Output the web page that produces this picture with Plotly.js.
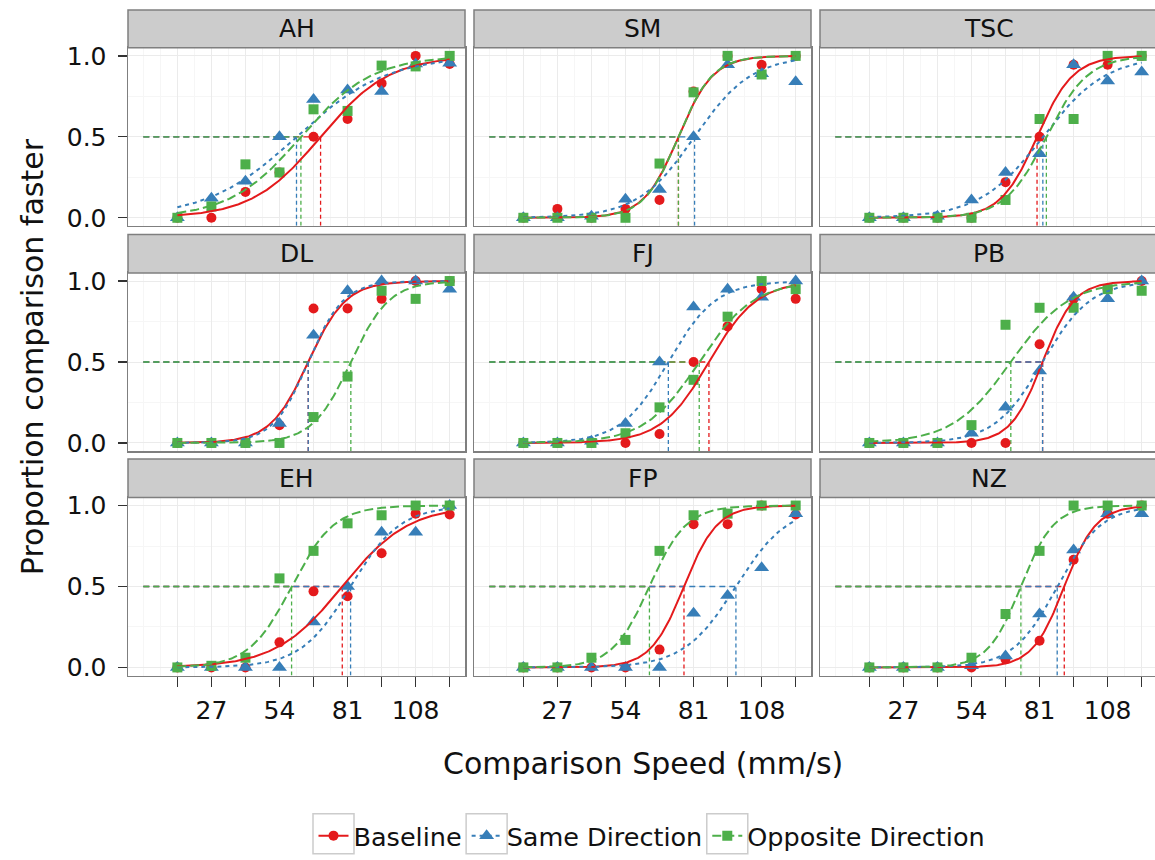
<!DOCTYPE html>
<html><head><meta charset="utf-8">
<script src="https://cdn.plot.ly/plotly-3.0.1.min.js"></script>
<style>html,body{margin:0;padding:0;overflow:hidden;background:#fff}#chart{width:1160px;height:860px}</style>
</head><body><div id="chart"></div>
<script>
// ---------- data ----------
const speeds = [13.5, 27, 40.5, 54, 67.5, 81, 94.5, 108, 121.5];
const subjects = ['AH', 'SM', 'TSC', 'DL', 'FJ', 'PB', 'EH', 'FP', 'NZ'];
const conditions = ['Baseline', 'Same Direction', 'Opposite Direction'];
const xTickVals = [13.5, 27, 40.5, 54, 67.5, 81, 94.5, 108, 121.5];
const xTickText = ['', '27', '', '54', '', '81', '', '108', ''];
const yTickVals = [0, 0.5, 1];
const yTickText = ['0.0', '0.5', '1.0'];

// proportion "comparison faster", one row per subject (order of `subjects`)
const baselineProp = [
  [0, 0, 0.16, 0.28, 0.5, 0.61, 0.83, 1.0, 0.95],
  [0, 0.055, 0, 0.055, 0.11, 0.78, 1.0, 0.945, 1.0],
  [0, 0, 0, 0, 0.22, 0.5, 0.945, 0.945, 1.0],
  [0, 0, 0, 0.11, 0.83, 0.83, 0.89, 1.0, 1.0],
  [0, 0, 0, 0, 0.055, 0.5, 0.72, 0.95, 0.89],
  [0, 0, 0, 0, 0, 0.61, 0.89, 0.95, 1.0],
  [0, 0, 0, 0.155, 0.47, 0.44, 0.705, 0.95, 0.945],
  [0, 0, 0, 0, 0.11, 0.885, 0.885, 1.0, 0.945],
  [0, 0, 0, 0, 0.05, 0.165, 0.665, 0.95, 1.0]
];
const sameProp = [
  [0, 0.12, 0.225, 0.5, 0.73, 0.79, 0.78, 0.95, 0.955],
  [0, 0, 0.01, 0.115, 0.175, 0.5, 0.945, 0.89, 0.84],
  [0, 0, 0.01, 0.11, 0.28, 0.395, 0.945, 0.845, 0.9],
  [0, 0, 0, 0.12, 0.665, 0.94, 1.0, 1.0, 0.95],
  [0, 0, 0.01, 0.12, 0.5, 0.84, 0.95, 0.9, 1.0],
  [0, 0, 0, 0.06, 0.22, 0.445, 0.9, 0.89, 1.0],
  [0, 0, 0, 0, 0.28, 0.5, 0.835, 0.835, 1.0],
  [0, 0, 0, 0, 0, 0.335, 0.445, 0.615, 0.95],
  [0, 0, 0, 0.01, 0.07, 0.33, 0.725, 0.95, 0.95]
];
const oppositeProp = [
  [0, 0.07, 0.33, 0.28, 0.67, 0.66, 0.94, 0.935, 1.0],
  [0, 0, 0, 0, 0.335, 0.775, 1.0, 0.885, 1.0],
  [0, 0, 0, 0, 0.11, 0.61, 0.61, 1.0, 1.0],
  [0, 0, 0, 0, 0.16, 0.41, 0.94, 0.89, 1.0],
  [0, 0, 0, 0.06, 0.22, 0.39, 0.78, 1.0, 0.95],
  [0, 0, 0, 0.11, 0.73, 0.835, 0.835, 0.95, 0.94],
  [0, 0.01, 0.06, 0.55, 0.72, 0.89, 0.94, 1.0, 1.0],
  [0, 0, 0.06, 0.17, 0.72, 0.94, 0.95, 1.0, 1.0],
  [0, 0, 0, 0.06, 0.33, 0.72, 1.0, 1.0, 1.0]
];

// fitted psychometric functions: point of subjective equality and spread
const baselinePSE = [70.3, 75.0, 80.0, 65.4, 87.1, 82.2, 78.9, 77.2, 90.8];
const samePSE     = [60.75, 81.4, 82.3, 65.4, 71.0, 82.2, 82.2, 97.8, 88.0];
const oppositePSE = [62.5, 75.0, 83.7, 82.3, 83.25, 69.6, 58.8, 63.5, 73.6];
const baselineSpread = [13.6, 6.9, 7.2, 7.5, 9.5, 6.3, 13.2, 6.6, 6.3];
const sameSpread     = [17.7, 11.3, 12.5, 7.0, 9.4, 9.5, 9.8, 10.3, 8.7];
const oppositeSpread = [14.1, 6.8, 8.2, 7.6, 10.8, 11.5, 8.4, 7.3, 6.5];

// ---------- styling ----------
const W = 1160, H = 860;
const FONT = 'DejaVu Sans';
const colors = ['#E41A1C', '#377EB8', '#4DAF4A'];
const symbols = ['circle', 'triangle-up', 'square'];
const msizes = [10, 13, 10];
const curveDash = ['solid', '4px,4px', '9px,4px'];
const colLeft = [128, 474, 820], colRight = [465, 811, 1157];
const rowTop = [47.9, 273.6, 498.6], rowBottom = [226.4, 452.1, 677.1];
const stripTop = [10, 235, 460];

const props = [baselineProp, sameProp, oppositeProp];
const pses = [baselinePSE, samePSE, oppositePSE];
const spreads = [baselineSpread, sameSpread, oppositeSpread];

const curveX = [];
for (let v = speeds[0]; v <= speeds[speeds.length - 1] + 1e-9; v += 0.5) curveX.push(v);
const logistic = (x, m, s) => 1 / (1 + Math.exp(-(x - m) / s));

const traces = [];
const layout = {
  width: W, height: H,
  margin: {l: 0, r: 0, t: 0, b: 0},
  paper_bgcolor: '#fff', plot_bgcolor: '#fff',
  font: {family: FONT, color: '#111'},
  showlegend: true,
  legend: {orientation: 'h', x: 652 / W, xanchor: 'center', y: 1 - 838 / H, yanchor: 'middle',
           font: {family: FONT, size: 25.5, color: '#111'}, bgcolor: 'rgba(0,0,0,0)', traceorder: 'normal'},
  shapes: [], annotations: []
};

subjects.forEach((subj, i) => {
  const r = Math.floor(i / 3), c = i % 3;
  const suf = i === 0 ? '' : String(i + 1);
  const xa = 'x' + suf, ya = 'y' + suf;
  layout['xaxis' + suf] = {
    domain: [colLeft[c] / W, colRight[c] / W], anchor: ya,
    range: [-6.075, 127.575], tickmode: 'array', tickvals: xTickVals,
    ticktext: xTickText, showticklabels: r === 2,
    ticks: r === 2 ? 'outside' : '', ticklen: 10, tickwidth: 1.3, tickcolor: '#333',
    ticklabelstandoff: 2,
    tickfont: {family: FONT, size: 25, color: '#111'},
    showgrid: true, gridcolor: '#EBEBEB', gridwidth: 1,
    minor: {tickmode: 'linear', tick0: 0, dtick: 6.75, showgrid: true, gridcolor: '#F6F6F6', gridwidth: 1, ticks: ''},
    showline: true, mirror: true, linecolor: '#7F7F7F', linewidth: 1.5, zeroline: false, fixedrange: true
  };
  layout['yaxis' + suf] = {
    domain: [1 - rowBottom[r] / H, 1 - rowTop[r] / H], anchor: xa,
    range: [-0.05, 1.05], tickmode: 'array', tickvals: yTickVals, ticktext: yTickText,
    showticklabels: c === 0, ticks: c === 0 ? 'outside' : '', ticklen: 9, tickwidth: 1.3, tickcolor: '#333',
    ticklabelstandoff: 6,
    tickfont: {family: FONT, size: 25, color: '#111'},
    showgrid: true, gridcolor: '#EBEBEB', gridwidth: 1,
    minor: {tickmode: 'linear', tick0: 0, dtick: 0.25, showgrid: true, gridcolor: '#F6F6F6', gridwidth: 1, ticks: ''},
    showline: true, mirror: true, linecolor: '#7F7F7F', linewidth: 1.5, zeroline: false, fixedrange: true
  };
  // strip
  layout.shapes.push({type: 'rect', xref: 'paper', yref: 'paper',
    x0: colLeft[c] / W, x1: colRight[c] / W, y0: 1 - rowTop[r] / H, y1: 1 - stripTop[r] / H,
    fillcolor: '#CCCCCC', line: {color: '#7F7F7F', width: 1.5}, layer: 'above'});
  layout.annotations.push({xref: 'paper', yref: 'paper', showarrow: false,
    x: (colLeft[c] + colRight[c]) / 2 / W, y: 1 - (rowTop[r] + stripTop[r]) / 2 / H,
    xanchor: 'center', yanchor: 'middle', text: subj, font: {family: FONT, size: 25, color: '#111'}});

  // reference lines at PSE
  for (let k = 0; k < 3; k++) {
    const m = pses[k][i];
    traces.push({type: 'scatter', mode: 'lines', xaxis: xa, yaxis: ya, showlegend: false, hoverinfo: 'skip',
      x: [0, m], y: [0.5, 0.5], line: {color: colors[k], width: 1.3, dash: '6px,4px'}});
    traces.push({type: 'scatter', mode: 'lines', xaxis: xa, yaxis: ya, showlegend: false, hoverinfo: 'skip',
      x: [m, m], y: [-0.05, 0.5], line: {color: colors[k], width: 1.3, dash: '4px,3px'}});
  }
  // data points
  for (let k = 0; k < 3; k++) {
    traces.push({type: 'scatter', mode: 'markers', xaxis: xa, yaxis: ya, showlegend: false,
      x: speeds, y: props[k][i], cliponaxis: false,
      marker: {symbol: symbols[k], size: msizes[k], color: colors[k], line: {width: 0}}});
  }
  // fitted curves
  for (let k = 0; k < 3; k++) {
    traces.push({type: 'scatter', mode: 'lines', xaxis: xa, yaxis: ya, showlegend: false, hoverinfo: 'skip',
      x: curveX, y: curveX.map(x => logistic(x, pses[k][i], spreads[k][i])),
      line: {color: colors[k], width: 2, dash: curveDash[k]}});
  }
});

// legend entries
for (let k = 0; k < 3; k++) {
  traces.push({type: 'scatter', mode: 'lines+markers', x: [null], y: [null], name: conditions[k],
    showlegend: true, line: {color: colors[k], width: 2, dash: curveDash[k]},
    marker: {symbol: symbols[k], size: msizes[k], color: colors[k]}});
}

// axis titles
layout.annotations.push({xref: 'paper', yref: 'paper', showarrow: false, x: 642.5 / W, y: 1 - 765 / H,
  xanchor: 'center', yanchor: 'middle', text: 'Comparison Speed (mm/s)', font: {family: FONT, size: 30, color: '#111'}});
layout.annotations.push({xref: 'paper', yref: 'paper', showarrow: false, x: 32 / W, y: 1 - 358 / H,
  xanchor: 'center', yanchor: 'middle', textangle: -90, text: 'Proportion comparison faster',
  font: {family: FONT, size: 30, color: '#111'}});

Plotly.newPlot('chart', traces, layout, {staticPlot: true, displayModeBar: false}).then(gd => {
  const boxes = [];
  gd.querySelectorAll('.legend .traces').forEach(it => {
    const p = it.querySelector('.legendlines path') || it.querySelector('.legendpoints path');
    if (!p) return;
    const rc = p.getBoundingClientRect();
    const cx = (rc.left + rc.right) / 2, cy = (rc.top + rc.bottom) / 2;
    boxes.push({type: 'rect', xref: 'paper', yref: 'paper',
      x0: (cx - 20.5) / W, x1: (cx + 20.5) / W, y0: 1 - (cy + 20) / H, y1: 1 - (cy - 20) / H,
      line: {color: '#CCCCCC', width: 1.5}, fillcolor: 'rgba(0,0,0,0)'});
  });
  return Plotly.relayout(gd, {shapes: layout.shapes.concat(boxes)});
});
</script>
</body></html>
